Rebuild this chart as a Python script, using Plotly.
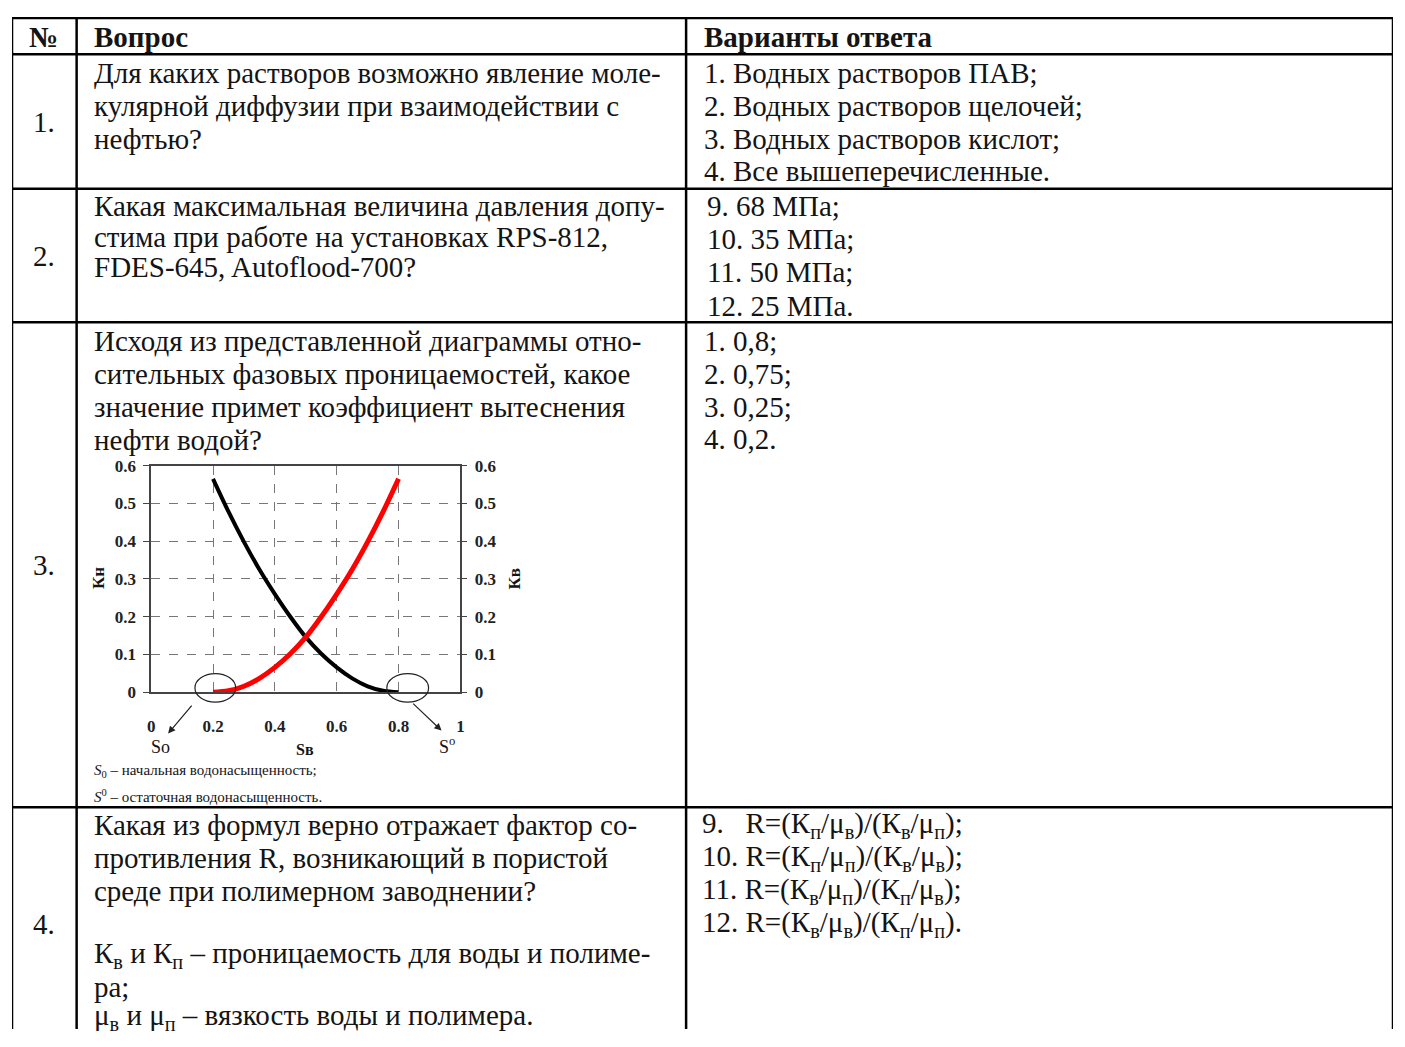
import plotly.graph_objects as go

# relative permeability curves
sw = [0.2, 0.25, 0.3, 0.35, 0.4, 0.45, 0.5, 0.55, 0.6, 0.65, 0.7, 0.75, 0.8]
kn = [0.565, 0.478, 0.398, 0.325, 0.26, 0.2, 0.146, 0.102, 0.066, 0.037, 0.016, 0.004, 0.0]
kv = [0.0, 0.004, 0.016, 0.037, 0.066, 0.102, 0.146, 0.2, 0.26, 0.325, 0.398, 0.478, 0.565]

sw_ticks = [0, 0.2, 0.4, 0.6, 0.8, 1]
sw_labels = ['0', '0.2', '0.4', '0.6', '0.8', '1']
k_ticks = [0, 0.1, 0.2, 0.3, 0.4, 0.5, 0.6]
k_labels = ['0', '0.1', '0.2', '0.3', '0.4', '0.5', '0.6']

header = ['№', 'Вопрос', 'Варианты ответа']
row_numbers = ['1.', '2.', '3.', '4.']
questions = [
    ['Для каких растворов возможно явление моле-',
     'кулярной диффузии при взаимодействии с',
     'нефтью?'],
    ['Какая максимальная величина давления допу-',
     'стима при работе на установках RPS-812,',
     'FDES-645, Autoflood-700?'],
    ['Исходя из представленной диаграммы отно-',
     'сительных фазовых проницаемостей, какое',
     'значение примет коэффициент вытеснения',
     'нефти водой?'],
    ['Какая из формул верно отражает фактор со-',
     'противления R, возникающий в пористой',
     'среде при полимерном заводнении?',
     '',
     'К<sub>в</sub> и К<sub>п</sub> – проницаемость для воды и полиме-',
     'ра;',
     'μ<sub>в</sub> и μ<sub>п</sub> – вязкость воды и полимера.'],
]
answers = [
    ['1. Водных растворов ПАВ;',
     '2. Водных растворов щелочей;',
     '3. Водных растворов кислот;',
     '4. Все вышеперечисленные.'],
    ['9. 68 МПа;', '10. 35 МПа;', '11. 50 МПа;', '12. 25 МПа.'],
    ['1. 0,8;', '2. 0,75;', '3. 0,25;', '4. 0,2.'],
    ['9.   R=(К<sub>п</sub>/μ<sub>в</sub>)/(К<sub>в</sub>/μ<sub>п</sub>);',
     '10. R=(К<sub>п</sub>/μ<sub>п</sub>)/(К<sub>в</sub>/μ<sub>в</sub>);',
     '11. R=(К<sub>в</sub>/μ<sub>п</sub>)/(К<sub>п</sub>/μ<sub>в</sub>);',
     '12. R=(К<sub>в</sub>/μ<sub>в</sub>)/(К<sub>п</sub>/μ<sub>п</sub>).'],
]

# page is drawn inside the 8px body margin
PAD = 8
W, H = 1405 - 2 * PAD, 1047 - 2 * PAD
FONT = 'Liberation Serif'
TXT = '#141414'
FS = 29

# table geometry (page pixels)
col_x = [8, 73, 686, 1397]
row_y = [9, 46, 183, 319, 813, 1060]
num_y = [115, 251, 566, 932]
q_y = [[65, 99, 132],
       [201, 232, 263],
       [338, 372, 405, 439],
       [831, 865, 898, 932, 964, 996, 1027]]
a_y = [[65, 99, 132, 165],
       [201, 234, 268, 302],
       [338, 372, 405, 438],
       [831, 865, 898, 932]]
a_x = [702, 705, 702, 700]


def px(x):
    return (x - PAD) / W


def py(y):
    return (H - (y - PAD)) / H


fig = go.Figure()

fig.add_trace(go.Scatter(x=sw, y=kn, mode='lines', xaxis='x2', yaxis='y2',
                         line=dict(color='black', width=4, shape='spline'),
                         showlegend=False, hoverinfo='skip'))
fig.add_trace(go.Scatter(x=sw, y=kv, mode='lines', xaxis='x2', yaxis='y3',
                         line=dict(color='#ff0000', width=5, shape='spline'),
                         showlegend=False, hoverinfo='skip'))

shapes = []
for x in col_x:
    shapes.append(dict(type='line', xref='x', yref='y', x0=x, x1=x,
                       y0=row_y[0], y1=row_y[-1],
                       line=dict(color='black', width=2.5)))
for y in row_y[:-1]:
    shapes.append(dict(type='line', xref='x', yref='y', x0=col_x[0], x1=col_x[-1],
                       y0=y, y1=y, line=dict(color='black', width=2.5)))
# circles marking So and S° on the chart
for x0, x1 in [(192, 233), (385, 427)]:
    shapes.append(dict(type='circle', xref='x', yref='y', x0=x0, x1=x1, y0=677, y1=706,
                       line=dict(color='#222', width=1.2)))

ann = []


def txt(x, y, s, size=FS, bold=False, xanchor='left', **kw):
    if bold:
        s = '<b>' + s + '</b>'
    ann.append(dict(x=x, y=y, xref='x', yref='y', text=s, showarrow=False,
                    xanchor=xanchor, yanchor='middle',
                    font=dict(family=FONT, size=size, color=TXT), **kw))


txt(40, 28, header[0], bold=True, xanchor='center')
txt(88, 28, header[1], bold=True)
txt(702, 28, header[2], bold=True)

for i in range(4):
    txt(40, num_y[i], row_numbers[i], xanchor='center')
    for s, y in zip(questions[i], q_y[i]):
        if s:
            txt(88, y, s)
    for s, y in zip(answers[i], a_y[i]):
        txt(a_x[i], y, s)

# chart labels
txt(95, 580, '<b>Кн</b>', size=17, xanchor='center', textangle=-90)
txt(513, 580, '<b>Кв</b>', size=17, xanchor='center', textangle=-90)
txt(157, 752, 'So', size=18, xanchor='center')
txt(446, 750, 'S<sup>o</sup>', size=18, xanchor='center')
txt(303, 754, '<b>Sв</b>', size=16, xanchor='center')
txt(88, 776, '<i>S</i><sub>0</sub> – начальная водонасыщенность;', size=15)
txt(88, 802, '<i>S</i><sup>0</sup> – остаточная водонасыщенность.', size=15)

# arrows from the circles
for (tx, ty), (hx, hy) in [((190, 708), (165, 738)), ((410, 706), (440, 735))]:
    ann.append(dict(x=hx, y=hy, ax=tx, ay=ty, xref='x', yref='y', axref='x', ayref='y',
                    showarrow=True, arrowhead=2, arrowsize=1.2, arrowwidth=1.2,
                    arrowcolor='#222', text=''))

ydom = [py(696), py(465)]
tickfont = dict(family=FONT, size=17, color='#222', weight='bold')

fig.update_layout(
    width=W, height=H,
    margin=dict(l=0, r=0, t=0, b=0),
    paper_bgcolor='white', plot_bgcolor='white',
    shapes=shapes, annotations=ann,
    xaxis=dict(range=[PAD, PAD + W], visible=False, domain=[0, 1], fixedrange=True),
    yaxis=dict(range=[PAD + H, PAD], visible=False, domain=[0, 1], fixedrange=True),
    xaxis2=dict(domain=[px(148), px(459)], anchor='y2', range=[0, 1],
                tickvals=sw_ticks, ticktext=sw_labels, tickfont=tickfont,
                showgrid=True, gridcolor='#777', griddash='dash', gridwidth=1,
                showline=True, linecolor='#444', linewidth=1.5, mirror=True,
                ticks='', ticklabelstandoff=18, zeroline=False),
    yaxis2=dict(domain=ydom, anchor='x2', range=[0, 0.6],
                tickvals=k_ticks, ticktext=k_labels, tickfont=tickfont,
                showgrid=True, gridcolor='#777', griddash='dash', gridwidth=1,
                showline=True, linecolor='#444', linewidth=1.5, mirror=True,
                ticks='outside', ticklen=6, tickcolor='#444', ticklabelstandoff=4,
                zeroline=True, zerolinecolor='black', zerolinewidth=2.5),
    yaxis3=dict(domain=ydom, anchor='x2', overlaying='y2', side='right', range=[0, 0.6],
                tickvals=k_ticks, ticktext=k_labels, tickfont=tickfont,
                showgrid=False, ticks='outside', ticklen=6, tickcolor='#444',
                ticklabelstandoff=4, showline=False, zeroline=False),
)

fig.write_html('out.html')
